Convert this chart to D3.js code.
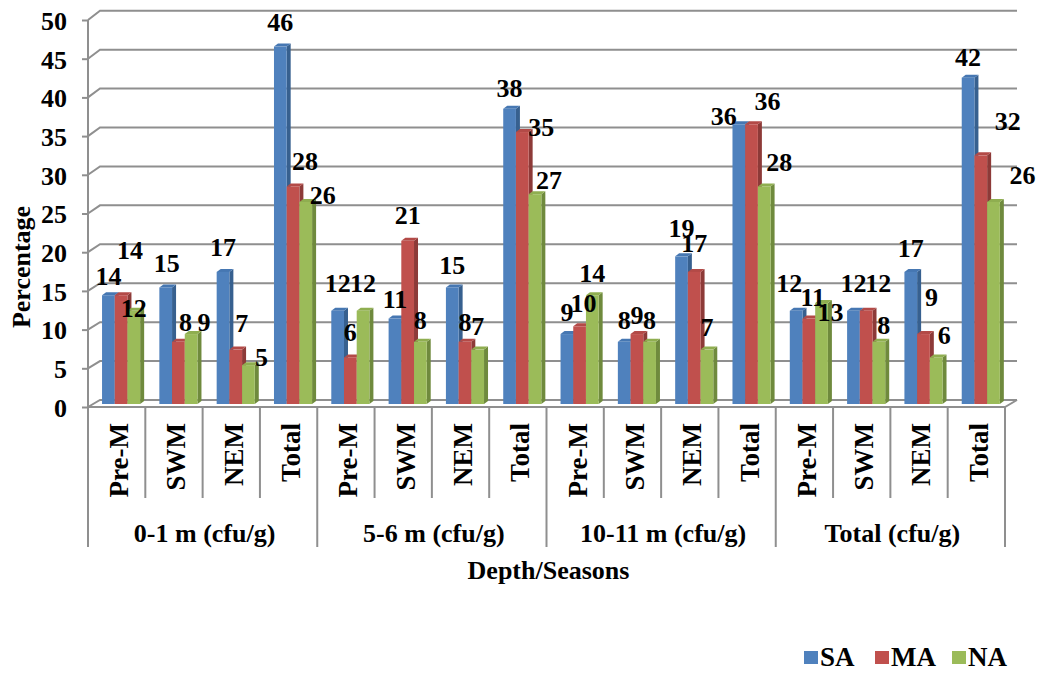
<!DOCTYPE html>
<html>
<head>
<meta charset="utf-8">
<script src="https://cdn.jsdelivr.net/npm/d3@7"></script>
<style>
  html, body { margin: 0; padding: 0; background: #fff; }
  svg { display: block; }
</style>
</head>
<body>
<svg id="chart" width="1040" height="673"></svg>
<script>
// Seasons within each depth group
const seasons = ["Pre-M", "SWM", "NEM", "Total"];
const depthGroups = ["0-1 m (cfu/g)", "5-6 m (cfu/g)", "10-11 m (cfu/g)", "Total (cfu/g)"];
const seriesNames = ["SA", "MA", "NA"];

// Percentages per series, in order: 4 depth groups x 4 seasons
const saValues = [14, 15, 17, 46, 12, 11, 15, 38, 9, 8, 19, 36, 12, 12, 17, 42];
const maValues = [14, 8, 7, 28, 6, 21, 8, 35, 10, 9, 17, 36, 11, 12, 9, 32];
const naValues = [12, 9, 5, 26, 12, 8, 7, 27, 14, 8, 7, 28, 13, 8, 6, 26];

const yTicks = [0, 5, 10, 15, 20, 25, 30, 35, 40, 45, 50];

// Label nudges [dx, dy] from the bar's top centre, per series
const saLabelShift = [[0,-19],[1,-25],[0,-25],[0,-25],[0,-28],[0,-20],[0,-23],[0,-21],[0,-22],[0,-22],[0,-28],[-15,-8],[-7,-28],[0,-28],[0,-24],[0,-21]];
const maLabelShift = [[9,-45],[7,-20],[6,-27],[12,-26],[0,-25],[0,-26],[0,-20],[19,-5],[4,-23],[0,-19],[0,-29],[16,-23],[4,-22],[12,-28],[8,-37],[27,-34]];
const naLabelShift = [[0,-3],[13,-12],[13,-8],[17,-7],[0,-28],[0,-22],[0,-24],[14,-14],[0,-22],[0,-22],[0,-23],[15,-25],[9,9],[5,-17],[8,-22],[29,-27]];

const colors = {
  SA: { front: "#4F81BD", side: "#37608f", top: "#4677b2" },
  MA: { front: "#C0504D", side: "#8d3a38", top: "#b34a47" },
  NA: { front: "#9BBB59", side: "#6f8a3d", top: "#8fae50" }
};

const FONT = '"Times New Roman", "Liberation Serif", "DejaVu Serif", serif';

const categories = [];
depthGroups.forEach((g, gi) => seasons.forEach((s, si) => categories.push({ key: gi + "|" + s, season: s, group: g })));

const series = [
  { name: "SA", values: saValues, shift: saLabelShift },
  { name: "MA", values: maValues, shift: maLabelShift },
  { name: "NA", values: naValues, shift: naLabelShift }
];

const svg = d3.select("#chart");

// Shared text styling helper
function styleText(sel, size) {
  return sel.attr("font-family", FONT).style("font-family", FONT)
    .attr("font-weight", "bold").style("font-weight", "bold")
    .attr("font-size", size).attr("fill", "#000");
}

// Plot frame: front edge and back wall, offset by depth
const frontLeft = 88, frontRight = 1005;
const depth = { dx: 12, dy: -7.5 };

const x0 = d3.scaleBand().domain(categories.map(d => d.key)).range([frontLeft, frontRight]).padding(0);
const x1 = d3.scaleBand().domain(seriesNames)
  .range([x0.bandwidth() * 0.245, x0.bandwidth() * 0.91]).padding(0);

const yFront = d3.scaleLinear().domain([0, 50]).range([407, 20]);
const yBack = d3.scaleLinear().domain([0, 50]).range([400, 10.7]);
const yBar = d3.scaleLinear().domain([0, 50]).range([404, 15.5]);

const gridColor = "#8f8f8f";

// Back-wall gridlines with the slanted side-wall segments
const grid = svg.append("g");
yTicks.forEach(t => {
  grid.append("path")
    .attr("d", `M${frontLeft},${yFront(t)}L${frontLeft + depth.dx},${yBack(t)}L${frontRight + depth.dx},${yBack(t)}`)
    .attr("fill", "none").attr("stroke", gridColor).attr("stroke-width", 2);
});
// Floor front edge and right slant
grid.append("path")
  .attr("d", `M${frontLeft},${yFront(0)}L${frontRight},${yFront(0)}L${frontRight + depth.dx},${yBack(0)}`)
  .attr("fill", "none").attr("stroke", gridColor).attr("stroke-width", 2);

// Y axis on the front edge
const yAxis = d3.axisLeft(yFront).tickValues(yTicks).tickSize(6).tickSizeOuter(0).tickPadding(15);
const yg = svg.append("g").attr("transform", `translate(${frontLeft},0)`).call(yAxis);
yg.select(".domain").remove();
yg.selectAll(".tick line").attr("stroke", gridColor).attr("stroke-width", 2);
styleText(yg.selectAll(".tick text"), 26).attr("dy", "0.36em");
yg.attr("font-family", FONT).attr("font-size", 26);
svg.append("line").attr("x1", frontLeft).attr("x2", frontLeft).attr("y1", yFront(50)).attr("y2", 547)
  .attr("stroke", gridColor).attr("stroke-width", 2);

// Bars with a right side face and a top face
const side = { dx: 4, dy: -3 };
const barsG = svg.append("g");
categories.forEach((cat, ci) => {
  series.forEach(s => {
    const v = s.values[ci];
    const xl = x0(cat.key) + x1(s.name);
    const w = x1.bandwidth();
    const yt = yBar(v), yb = yBar(0);
    const c = colors[s.name];
    barsG.append("path")
      .attr("d", `M${xl + w},${yb}L${xl + w + side.dx},${yb + side.dy}L${xl + w + side.dx},${yt + side.dy}L${xl + w},${yt}Z`)
      .attr("fill", c.side);
    barsG.append("path")
      .attr("d", `M${xl},${yt}L${xl + side.dx},${yt + side.dy}L${xl + w + side.dx},${yt + side.dy}L${xl + w},${yt}Z`)
      .attr("fill", c.top);
    barsG.append("rect")
      .attr("x", xl).attr("y", yt).attr("width", w).attr("height", yb - yt)
      .attr("fill", c.front);
  });
});

// Value labels
const labelsG = svg.append("g");
categories.forEach((cat, ci) => {
  series.forEach(s => {
    const v = s.values[ci];
    const cx = x0(cat.key) + x1(s.name) + x1.bandwidth() / 2;
    const [dx, dy] = s.shift[ci];
    styleText(labelsG.append("text"), 26)
      .attr("x", cx + dx).attr("y", yBar(v) + dy)
      .attr("dy", "0.35em").attr("text-anchor", "middle")
      .text(v);
  });
});

// Category axis: separators and labels
const xg = svg.append("g");
categories.forEach((cat, ci) => {
  const left = x0(cat.key);
  if (ci > 0) {
    const isGroupEdge = ci % seasons.length === 0;
    xg.append("line").attr("x1", left).attr("x2", left)
      .attr("y1", yFront(0)).attr("y2", isGroupEdge ? 547 : 498)
      .attr("stroke", gridColor).attr("stroke-width", 2);
  }
  const cx = left + x0.bandwidth() / 2 + 2;
  styleText(xg.append("text"), 27)
    .attr("transform", `translate(${cx},423) rotate(-90)`)
    .attr("text-anchor", "end").attr("dy", "0.35em")
    .text(cat.season);
});
xg.append("line").attr("x1", frontRight).attr("x2", frontRight)
  .attr("y1", yFront(0)).attr("y2", 547).attr("stroke", gridColor).attr("stroke-width", 2);

depthGroups.forEach((g, gi) => {
  const first = x0(categories[gi * seasons.length].key);
  const last = x0(categories[gi * seasons.length + seasons.length - 1].key) + x0.bandwidth();
  styleText(xg.append("text"), 26)
    .attr("x", (first + last) / 2 + 2).attr("y", 542)
    .attr("text-anchor", "middle").text(g);
});

// Axis titles
styleText(svg.append("text"), 26)
  .attr("x", (frontLeft + frontRight) / 2 + 2).attr("y", 579)
  .attr("text-anchor", "middle").text("Depth/Seasons");
styleText(svg.append("text"), 26)
  .attr("transform", "translate(21,267) rotate(-90)")
  .attr("text-anchor", "middle").attr("dy", "0.35em").text("Percentage");

// Legend
const legendItems = [{ name: "SA", x: 804 }, { name: "MA", x: 875 }, { name: "NA", x: 952 }];
const lg = svg.append("g");
legendItems.forEach(it => {
  lg.append("rect").attr("x", it.x).attr("y", 651).attr("width", 14).attr("height", 13)
    .attr("fill", colors[it.name].front);
  styleText(lg.append("text"), 27).attr("x", it.x + 16).attr("y", 666).text(it.name);
});
</script>
</body>
</html>
